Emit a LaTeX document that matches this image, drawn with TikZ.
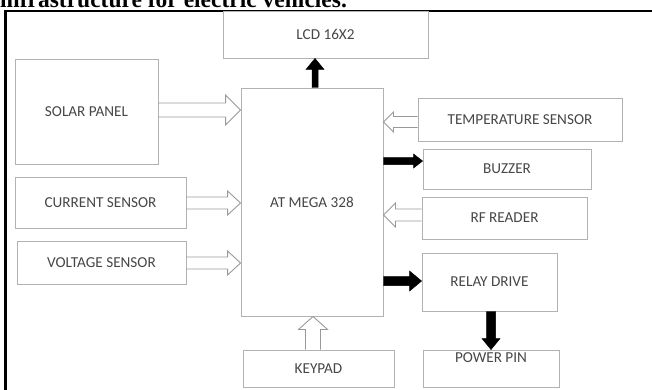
\documentclass[tikz,border=0pt]{standalone}
\usepackage{fontspec}
\setmainfont{Carlito}
\newfontfamily\titlefont{Liberation Serif}
\usetikzlibrary{calc}
\tikzset{
  box/.style={draw=black!30, line width=0.9pt, fill=white, text=black!72,
    font=\fontsize{15.2}{17}\selectfont, inner sep=0pt},
  arrowshape/.style={to path={
    let \p1=(\tikztostart), \p2=(\tikztotarget),
        \n1={veclen(\x2-\x1,\y2-\y1)},
        \n2={(\x2-\x1)/\n1}, \n3={(\y2-\y1)/\n1} in
    ({\x1-(\n3)*\shw*1pt},{\y1+(\n2)*\shw*1pt})
    -- ({\x2-(\n2)*\hl*1pt-(\n3)*\shw*1pt},{\y2-(\n3)*\hl*1pt+(\n2)*\shw*1pt})
    -- ({\x2-(\n2)*\hl*1pt-(\n3)*\hhw*1pt},{\y2-(\n3)*\hl*1pt+(\n2)*\hhw*1pt})
    -- (\p2)
    -- ({\x2-(\n2)*\hl*1pt+(\n3)*\hhw*1pt},{\y2-(\n3)*\hl*1pt-(\n2)*\hhw*1pt})
    -- ({\x2-(\n2)*\hl*1pt+(\n3)*\shw*1pt},{\y2-(\n3)*\hl*1pt-(\n2)*\shw*1pt})
    -- ({\x1+(\n3)*\shw*1pt},{\y1-(\n2)*\shw*1pt})
  }},
  hollowarrow/.style n args={3}{arrowshape, draw=black!40, line width=0.9pt,
    /utils/exec={\def\shw{#1}\def\hhw{#2}\def\hl{#3}}},
  solidarrow/.style n args={3}{arrowshape, draw=black, fill=black, line width=0.5pt,
    /utils/exec={\def\shw{#1}\def\hhw{#2}\def\hl{#3}}},
}
\begin{document}
\begin{tikzpicture}[x=1pt,y=-1pt]
\useasboundingbox (0,0) rectangle (652,389);
% title line (cut off at the top, as in the reference)
\node[anchor=base west, inner sep=0pt, font=\titlefont\bfseries\fontsize{23.5}{25}\selectfont] (title) at (0,7) {infrastructure for electric vehicles.};
% frame
\draw[line width=2.5pt] (5.5,400) -- (5.5,11) -- (660,11);

% boxes
\node[box, minimum width=205pt, minimum height=47pt] (lcd) at (325.5,34.5) {LCD 16X2};
\node[box, minimum width=143pt, minimum height=105pt] (solar) at (86.5,111.5) {SOLAR PANEL};
\node[box, minimum width=142pt, minimum height=228pt] (mcu) at (312,202) {AT MEGA 328};
\node[box, minimum width=171pt, minimum height=51pt] (current) at (100.5,202.5) {CURRENT SENSOR};
\node[box, minimum width=169pt, minimum height=43pt] (voltage) at (101.5,262.5) {VOLTAGE SENSOR};
\node[box, minimum width=204pt, minimum height=43pt] (temp) at (520,119.5) {TEMPERATURE SENSOR};
\node[box, minimum width=168pt, minimum height=40pt] (buzzer) at (507,169) {BUZZER};
\node[box, minimum width=165pt, minimum height=42pt] (rf) at (504.5,218) {RF READER};
\node[box, minimum width=135pt, minimum height=58pt] (relay) at (489.5,282) {RELAY DRIVE};
\node[box, minimum width=136pt, minimum height=37pt, text height=10pt, text depth=23pt] (power) at (491,368.5) {POWER PIN};
\node[box, minimum width=151pt, minimum height=37pt] (keypad) at (318.5,368.5) {KEYPAD};

% connectors
\draw[solidarrow={3}{9}{11}] (315,0 |- mcu.north) to (315,0 |- lcd.south);
\draw[hollowarrow={7}{15}{15}] (solar.east |- 0,110) to (mcu.west |- 0,110);
\draw[hollowarrow={6}{12}{13}] (current.east |- 0,203) to (mcu.west |- 0,203);
\draw[hollowarrow={6}{12}{13}] (voltage.east |- 0,263) to (mcu.west |- 0,263);
\draw[hollowarrow={5.5}{10}{10}] (temp.west |- 0,122) to (mcu.east |- 0,122);
\draw[solidarrow={3.5}{7}{9}] (mcu.east |- 0,161) to (buzzer.west |- 0,161);
\draw[hollowarrow={6}{12}{12}] (rf.west |- 0,215) to (mcu.east |- 0,215);
\draw[solidarrow={4.5}{10}{12}] (mcu.east |- 0,281) to (relay.west |- 0,281);
\draw[solidarrow={4.5}{9}{11}] (491,0 |- relay.south) to (491,0 |- power.north);
\draw[hollowarrow={7.5}{14.5}{13}] (313,0 |- keypad.north) to (313,0 |- mcu.south);
\end{tikzpicture}
\end{document}
